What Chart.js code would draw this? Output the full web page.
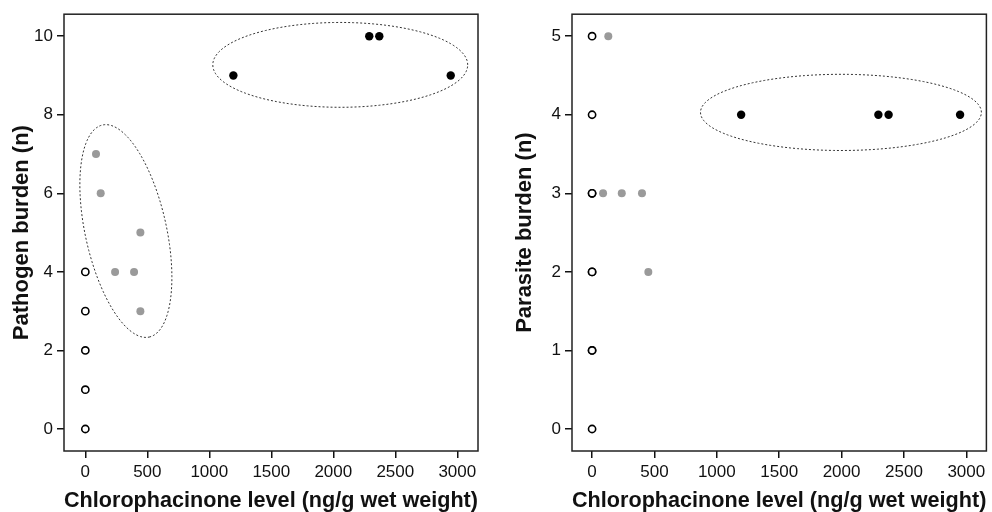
<!DOCTYPE html>
<html>
<head>
<meta charset="utf-8">
<script src="https://cdn.jsdelivr.net/npm/chart.js@4/dist/chart.umd.min.js"></script>
<style>
  body { margin: 0; background: #fff; }
  .panel { position: absolute; top: 0; width: 496px; height: 512px; }
</style>
</head>
<body>
<div class="panel" style="left:0"><canvas id="left" width="496" height="512"></canvas></div>
<div class="panel" style="left:496px"><canvas id="right" width="496" height="512"></canvas></div>
<script>
// tick labels
const xTicks = [0, 500, 1000, 1500, 2000, 2500, 3000];
const pathogenTicks = [0, 2, 4, 6, 8, 10];
const parasiteTicks = [0, 1, 2, 3, 4, 5];

// pathogen burden (left panel)
const pathNoneX = [0, 0, 0, 0, 0];
const pathNoneY = [0, 1, 2, 3, 4];
const pathLowX = [86, 124, 444, 240, 393, 444];
const pathLowY = [7, 6, 5, 4, 4, 3];
const pathHighX = [1194, 2290, 2371, 2947];
const pathHighY = [9, 10, 10, 9];

// parasite burden (right panel)
const parNoneX = [0, 0, 0, 0, 0, 0, 0, 0, 0];
const parNoneY = [0, 1, 1, 2, 2, 3, 3, 4, 5];
const parLowX = [130, 88, 238, 400, 451];
const parLowY = [5, 3, 3, 3, 2];
const parHighX = [1195, 2295, 2377, 2950];
const parHighY = [4, 4, 4, 4];

const pts = (xs, ys) => xs.map((x, i) => ({ x: x, y: ys[i] }));

// dotted group outlines: centre and two half-axis vectors, in data units
const pathEllipses = [
  { c: [2056, 9.27], u: [1028, 0], v: [0, 1.08] },
  { c: [327, 5.04], u: [188, -2.70], v: [320, 0.219] }
];
const parEllipses = [
  { c: [1995, 4.03], u: [1126, 0], v: [0, 0.485] }
];

const boxAndEllipses = {
  id: 'boxAndEllipses',
  afterDatasetsDraw(chart, args, opts) {
    const ctx = chart.ctx, a = chart.chartArea;
    const xs = chart.scales.x, ys = chart.scales.y;
    ctx.save();
    ctx.strokeStyle = '#333';
    ctx.lineWidth = 1;
    ctx.setLineDash([2, 2]);
    (opts.list || []).forEach(e => {
      ctx.beginPath();
      for (let i = 0; i <= 120; i++) {
        const t = i / 120 * Math.PI * 2;
        const dx = e.c[0] + e.u[0] * Math.cos(t) + e.v[0] * Math.sin(t);
        const dy = e.c[1] + e.u[1] * Math.cos(t) + e.v[1] * Math.sin(t);
        const px = xs.getPixelForValue(dx), py = ys.getPixelForValue(dy);
        if (i === 0) ctx.moveTo(px, py); else ctx.lineTo(px, py);
      }
      ctx.closePath();
      ctx.stroke();
    });
    ctx.setLineDash([]);
    ctx.lineWidth = 1.5;
    ctx.strokeStyle = '#222';
    ctx.strokeRect(a.left, a.top, a.right - a.left, a.bottom - a.top);
    ctx.restore();
  }
};

function makeChart(id, opt) {
  const tickFont = { family: 'Liberation Sans, Arial, sans-serif', size: 17 };
  const titleFont = { family: 'Liberation Sans, Arial, sans-serif', size: 22, weight: 'bold', lineHeight: 1 };
  const grid = { display: true, drawOnChartArea: false, drawTicks: true, tickLength: 7, color: '#111', lineWidth: 1.5 };
  return new Chart(document.getElementById(id), {
    type: 'scatter',
    data: {
      datasets: [
        { data: opt.none, pointRadius: 3.6, pointBorderWidth: 1.6, pointBackgroundColor: '#fff', pointBorderColor: '#000' },
        { data: opt.low, pointRadius: 4, pointBorderWidth: 0, pointBackgroundColor: '#9a9a9a', pointBorderColor: '#9a9a9a' },
        { data: opt.high, pointRadius: 4.2, pointBorderWidth: 0, pointBackgroundColor: '#000', pointBorderColor: '#000' }
      ]
    },
    options: {
      responsive: false,
      animation: false,
      layout: { padding: { top: 12, right: opt.padRight, left: 0, bottom: 0 } },
      plugins: {
        legend: { display: false },
        tooltip: { enabled: false },
        boxAndEllipses: { list: opt.ellipses }
      },
      scales: {
        x: {
          type: 'linear', min: opt.xMin, max: opt.xMax,
          afterBuildTicks: s => { s.ticks = xTicks.map(v => ({ value: v })); },
          afterFit: s => { s.height = 61; },
          grid: grid, border: { display: false },
          ticks: { font: tickFont, color: '#111', padding: 4, autoSkip: false, maxRotation: 0, callback: v => String(v) },
          title: { display: true, text: 'Chlorophacinone level (ng/g wet weight)', font: titleFont, color: '#111', padding: { top: 0, bottom: 0 } }
        },
        y: {
          type: 'linear', min: opt.yMin, max: opt.yMax,
          afterBuildTicks: s => { s.ticks = opt.yTicks.map(v => ({ value: v })); },
          afterFit: s => { s.width = opt.yWidth; },
          grid: grid, border: { display: false },
          ticks: { font: tickFont, color: '#111', padding: 4, autoSkip: false, callback: v => String(v) },
          title: { display: true, text: opt.yTitle, font: titleFont, color: '#111', padding: { top: opt.yTitlePad, bottom: 0 } }
        }
      }
    },
    plugins: [boxAndEllipses]
  });
}

makeChart('left', {
  none: pts(pathNoneX, pathNoneY), low: pts(pathLowX, pathLowY), high: pts(pathHighX, pathHighY),
  ellipses: pathEllipses, yTicks: pathogenTicks, yTitle: 'Pathogen burden (n)',
  xMin: -172, xMax: 3167, yMin: -0.56, yMax: 10.56, yWidth: 64, padRight: 18, yTitlePad: 10.75
});
makeChart('right', {
  none: pts(parNoneX, parNoneY), low: pts(parLowX, parLowY), high: pts(parHighX, parHighY),
  ellipses: parEllipses, yTicks: parasiteTicks, yTitle: 'Parasite burden (n)',
  xMin: -161, xMax: 3161, yMin: -0.28, yMax: 5.28, yWidth: 76, padRight: 2, yTitlePad: 17.75
});
</script>
</body>
</html>
